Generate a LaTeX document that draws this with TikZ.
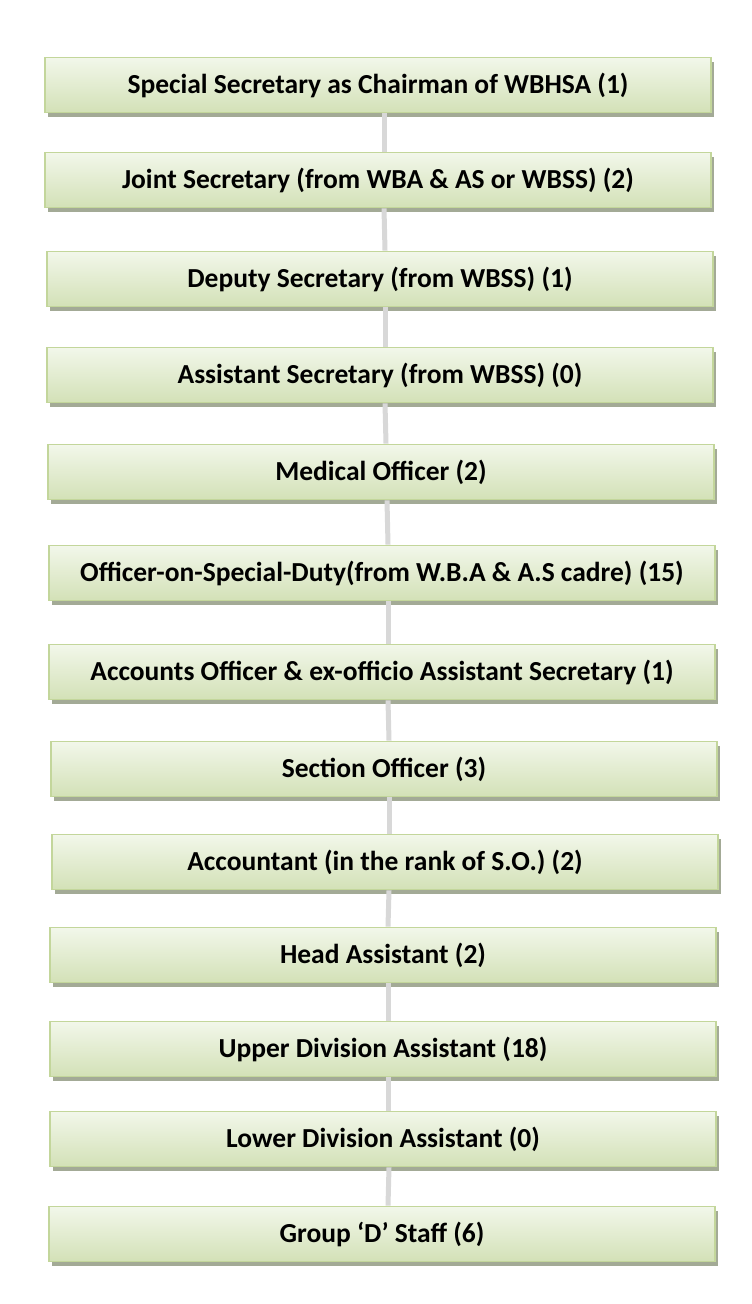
\documentclass[tikz,border=0pt]{standalone}
\usepackage{fontspec}
\setmainfont{Carlito}
\usetikzlibrary{positioning, shadows}

\definecolor{boxtop}{HTML}{F2F7EA}
\definecolor{boxbot}{HTML}{D3E1B7}
\definecolor{boxline}{HTML}{C3D69B}
\definecolor{boxshadow}{HTML}{A3AA96}
\definecolor{linkgrey}{HTML}{D8D8D8}

\begin{document}
\begin{tikzpicture}[
    x=1pt, y=-1pt,
    post_style/.style={rectangle, draw=boxline, line width=1.8pt, top color=boxtop, bottom color=boxbot,
        minimum width=666pt, minimum height=55pt, inner sep=0pt, font=\fontsize{27.5}{32}\selectfont\bfseries,
        drop shadow={shadow xshift=3pt, shadow yshift=-4pt, fill=boxshadow, opacity=1}},
    link_style/.style={draw=linkgrey, line width=5pt}
]

% Canvas
\path[use as bounding box, fill=white] (0,0) rectangle (752,1304);

% Posts, top to bottom
\node[post_style] (spl_sec) at (378,85) {Special Secretary as Chairman of WBHSA (1)};
\node[post_style] (jt_sec) at (378,180) {Joint Secretary (from WBA \& AS or WBSS) (2)};
\node[post_style] (dy_sec) at (380,279) {Deputy Secretary (from WBSS) (1)};
\node[post_style] (asst_sec) at (380,375) {Assistant Secretary (from WBSS) (0)};
\node[post_style] (med_off) at (381,472) {Medical Officer (2)};
\node[post_style] (osd) at (382,573) {Officer-on-Special-Duty(from W.B.A \& A.S cadre) (15)};
\node[post_style] (acc_off) at (382,672) {Accounts Officer \& ex-officio Assistant Secretary (1)};
\node[post_style] (sec_off) at (384,769) {Section Officer (3)};
\node[post_style] (accnt) at (385,862) {Accountant (in the rank of S.O.) (2)};
\node[post_style] (head_asst) at (383,955) {Head Assistant (2)};
\node[post_style] (uda) at (383,1049) {Upper Division Assistant (18)};
\node[post_style] (lda) at (383,1139) {Lower Division Assistant (0)};
\node[post_style] (grp_d) at (382,1234) {Group `D' Staff (6)};

% Links between the posts
\draw[link_style] ([xshift=6pt]spl_sec.south) -- ([xshift=6pt]jt_sec.north);
\draw[link_style] ([xshift=6pt]jt_sec.south) -- ([xshift=5pt]dy_sec.north);
\draw[link_style] ([xshift=5pt]dy_sec.south) -- ([xshift=5pt]asst_sec.north);
\draw[link_style] ([xshift=5pt]asst_sec.south) -- ([xshift=5pt]med_off.north);
\draw[link_style] ([xshift=6pt]med_off.south) -- ([xshift=6pt]osd.north);
\draw[link_style] ([xshift=6pt]osd.south) -- ([xshift=6pt]acc_off.north);
\draw[link_style] ([xshift=6pt]acc_off.south) -- ([xshift=5pt]sec_off.north);
\draw[link_style] ([xshift=5pt]sec_off.south) -- ([xshift=4pt]accnt.north);
\draw[link_style] ([xshift=4pt]accnt.south) -- ([xshift=5pt]head_asst.north);
\draw[link_style] ([xshift=5pt]head_asst.south) -- ([xshift=5pt]uda.north);
\draw[link_style] ([xshift=5pt]uda.south) -- ([xshift=5pt]lda.north);
\draw[link_style] ([xshift=6pt]lda.south) -- ([xshift=6pt]grp_d.north);

\end{tikzpicture}
\end{document}
